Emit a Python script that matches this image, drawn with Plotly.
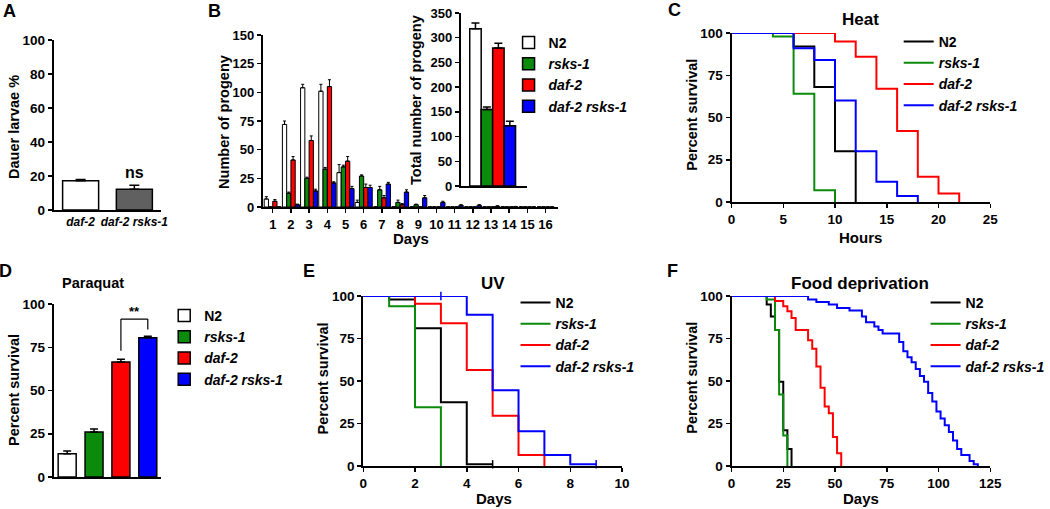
import plotly.graph_objects as go

W, H = 1050, 509
FONT = "Liberation Sans, Arial, sans-serif"
GREEN = "#0b8a0b"
RED = "#ff0000"
BLUE = "#0000ff"
GRAY = "#606060"

# ---------------- data ----------------
# A: dauer formation
dauer_strains = ["daf-2", "daf-2 rsks-1"]
dauer_pct = [17.2, 12.2]
dauer_err = [0.8, 2.4]

# B: daily progeny
progeny_days = list(range(1, 17))
prog_n2 = [7, 72, 104, 101, 30, 4, 0, 0, 0, 0, 0, 0, 0, 0, 0, 0]
prog_n2_err = [2, 3, 3, 6, 7, 2, 0, 0, 0, 0, 0, 0, 0, 0, 0, 0]
prog_rsks1 = [0, 12, 25, 33, 35, 27, 15, 4, 2, 0, 0, 0, 0, 0, 0, 0]
prog_rsks1_err = [0, 1, 1, 1.5, 1.5, 1, 3, 2, 0.5, 0, 0, 0, 0, 0, 0, 0]
prog_daf2 = [5, 41, 58, 105, 40, 17, 8, 2, 0, 0, 0, 0, 0, 0, 0, 0]
prog_daf2_err = [1.5, 3, 4, 6, 4, 3, 2, 1, 0, 0, 0, 0, 0, 0, 0, 0]
prog_double = [0, 2, 14, 21, 16, 17, 20, 13, 8, 4, 1.5, 1.5, 0.7, 0.3, 0, 0]
prog_double_err = [0, 0.5, 1.5, 1, 2, 2, 1.5, 2, 2, 1, 0.5, 0.5, 0.3, 0.2, 0, 0]

# B inset: total progeny
total_strains = ["N2", "rsks-1", "daf-2", "daf-2 rsks-1"]
total_progeny = [318, 155, 279, 122]
total_err = [12, 5, 10, 9]

# C: heat survival
heat_t_n2 = [0, 6, 8, 10, 12]
heat_s_n2 = [100, 92, 68, 30, 0]
heat_t_rsks1 = [0, 4, 6, 8, 10]
heat_s_rsks1 = [100, 98, 64, 7, 0]
heat_t_daf2 = [0, 10, 12, 14, 16, 18, 20, 22]
heat_s_daf2 = [100, 95, 86, 67, 42, 15, 5, 0]
heat_t_double = [0, 6, 8, 10, 12, 14, 16, 18]
heat_s_double = [100, 91, 84, 60, 30, 12, 3.5, 0]

# D: paraquat survival
paraquat_strains = ["N2", "rsks-1", "daf-2", "daf-2 rsks-1"]
paraquat_surv = [13.5, 26, 66.5, 80.5]
paraquat_err = [1.5, 1.8, 1.5, 0.8]

# E: UV survival
uv_t_n2 = [0, 1, 2, 3, 4, 5]
uv_s_n2 = [100, 98, 81, 37.5, 1, 1]
uv_t_rsks1 = [0, 1, 2, 3]
uv_s_rsks1 = [100, 94, 34.5, 0]
uv_t_daf2 = [0, 2, 3, 4, 5, 6, 7]
uv_s_daf2 = [100, 95.5, 84, 56.5, 29.5, 6.5, 0]
uv_t_double = [0, 4, 5, 6, 7, 8, 9]
uv_s_double = [100, 89, 44.5, 20.5, 6.5, 1, 1]
# censored observations (tick marks)
uv_censor_n2_t = [5]
uv_censor_n2_s = [1]
uv_censor_double_t = [3, 9]
uv_censor_double_s = [100, 1]

# F: food deprivation survival
fd_t_n2 = [0, 17, 19, 21, 23, 25, 27, 29]
fd_s_n2 = [100, 95, 88, 80, 49.5, 21, 10, 0]
fd_t_rsks1 = [0, 17, 21, 23, 25, 27]
fd_s_rsks1 = [100, 98, 80, 42, 18, 0]
fd_t_daf2 = [0, 21, 25, 27, 29, 31, 37, 39, 41, 43, 45, 47, 49, 51, 53]
fd_s_daf2 = [100, 97, 94, 91, 87, 80, 74, 69, 58.5, 46, 35, 31, 17, 7.5, 0]
fd_t_double = [0, 37, 41, 47, 51, 57, 63, 65, 69, 71, 73, 81, 83, 85, 87, 89,
               91, 93, 95, 97, 99, 101, 103, 105, 107, 109, 111, 115, 117, 119]
fd_s_double = [100, 98, 96.5, 95, 93, 91.5, 88, 84.5, 82, 80, 78, 73, 67.5, 64,
               61, 57, 53, 49.5, 43, 38, 32, 28, 24, 20, 15, 10, 6.5, 3, 1, 0]

strain_colors = ["white", GREEN, RED, BLUE]
line_colors = ["black", GREEN, RED, BLUE]


def label(name):
    return name if name == "N2" else "<i>" + name + "</i>"


# ---------------- helpers ----------------
def fx(p):
    return p / W


def fy(p):
    return 1 - p / H


def axis(dom, rng, anchor, tickvals=None, ticks="outside", showticklabels=True,
         size=13, typ="linear", ticktext=None):
    d = dict(domain=dom, anchor=anchor, showline=True, linecolor="black",
             linewidth=2, ticks=ticks, ticklen=4, tickwidth=1.5,
             tickcolor="black", showgrid=False, zeroline=False,
             showticklabels=showticklabels, fixedrange=True, tickangle=0,
             automargin=False,
             tickfont=dict(family=FONT, size=size, color="black", weight="bold"))
    if typ == "category":
        d["type"] = "category"
    else:
        d["range"] = rng
    if tickvals is not None:
        d["tickvals"] = tickvals
    if ticktext is not None:
        d["ticktext"] = ticktext
    return d


fig = go.Figure()

# ---- A ----
fig.add_trace(go.Bar(
    x=dauer_strains, y=dauer_pct, xaxis="x", yaxis="y",
    marker=dict(color=["white", GRAY], line=dict(color="black", width=1.5)),
    error_y=dict(type="data", array=dauer_err, arrayminus=[0] * 2,
                 symmetric=False, color="black", thickness=1.5, width=5),
    showlegend=False, width=0.67))

# ---- B main ----
b_series = [(prog_n2, prog_n2_err), (prog_rsks1, prog_rsks1_err),
            (prog_daf2, prog_daf2_err), (prog_double, prog_double_err)]
bw = 0.235
for i, (vals, errs) in enumerate(b_series):
    fig.add_trace(go.Bar(
        x=progeny_days, y=vals, xaxis="x2", yaxis="y2",
        width=bw, offset=-2 * bw + i * bw,
        marker=dict(color=strain_colors[i], line=dict(color="black", width=1)),
        error_y=dict(type="data", array=errs, arrayminus=[0] * len(errs),
                     symmetric=False, color="black", thickness=1, width=1.5),
        showlegend=False))

# ---- B inset ----
for i, name in enumerate(total_strains):
    fig.add_trace(go.Bar(
        x=[i], y=[total_progeny[i]], xaxis="x3", yaxis="y3", width=1,
        name=label(name), legend="legend",
        marker=dict(color=strain_colors[i], line=dict(color="black", width=1.5)),
        error_y=dict(type="data", array=[total_err[i]], arrayminus=[0],
                     symmetric=False, color="black", thickness=1.5, width=4)))


def surv_traces(series, xa, ya, leg):
    for i, (name, t, s) in enumerate(series):
        fig.add_trace(go.Scatter(
            x=t, y=s, xaxis=xa, yaxis=ya, mode="lines", name=label(name),
            line=dict(color=line_colors[i], width=2, shape="hv"),
            legend=leg))


def censor_marks(t, s, color, xa, ya):
    fig.add_trace(go.Scatter(
        x=t, y=s, xaxis=xa, yaxis=ya, mode="markers", showlegend=False,
        marker=dict(symbol="line-ns", size=6, line=dict(color=color, width=1.5)),
        cliponaxis=False))


# ---- C ----
surv_traces([("N2", heat_t_n2, heat_s_n2), ("rsks-1", heat_t_rsks1, heat_s_rsks1),
             ("daf-2", heat_t_daf2, heat_s_daf2),
             ("daf-2 rsks-1", heat_t_double, heat_s_double)], "x4", "y4", "legend2")

# ---- D ----
for i, name in enumerate(paraquat_strains):
    fig.add_trace(go.Bar(
        x=[name], y=[paraquat_surv[i]], xaxis="x5", yaxis="y5", width=0.67,
        name=label(name), legend="legend3", offsetgroup="d",
        marker=dict(color=strain_colors[i], line=dict(color="black", width=1.5)),
        error_y=dict(type="data", array=[paraquat_err[i]], arrayminus=[0],
                     symmetric=False, color="black", thickness=1.5, width=4)))

# ---- E ----
surv_traces([("N2", uv_t_n2, uv_s_n2), ("rsks-1", uv_t_rsks1, uv_s_rsks1),
             ("daf-2", uv_t_daf2, uv_s_daf2),
             ("daf-2 rsks-1", uv_t_double, uv_s_double)], "x6", "y6", "legend4")
censor_marks(uv_censor_n2_t, uv_censor_n2_s, "black", "x6", "y6")
censor_marks(uv_censor_double_t, uv_censor_double_s, BLUE, "x6", "y6")

# ---- F ----
surv_traces([("N2", fd_t_n2, fd_s_n2), ("rsks-1", fd_t_rsks1, fd_s_rsks1),
             ("daf-2", fd_t_daf2, fd_s_daf2),
             ("daf-2 rsks-1", fd_t_double, fd_s_double)], "x7", "y7", "legend5")

# ---------------- layout ----------------
layout = dict(
    width=W, height=H, autosize=False,
    margin=dict(l=0, r=0, t=0, b=0, pad=0),
    paper_bgcolor="white", plot_bgcolor="white",
    barmode="overlay", bargap=0,
    font=dict(family=FONT, color="black"),
)

layout["xaxis"] = axis([fx(54), fx(162)], None, "y", ticks="", typ="category",
                       ticktext=[label(s) for s in dauer_strains],
                       tickvals=dauer_strains, size=12)
layout["yaxis"] = axis([fy(210), fy(40)], [0, 100], "x",
                       tickvals=[0, 20, 40, 60, 80, 100], size=13.5)

layout["xaxis2"] = axis([fx(264), fx(561)], [0.45, 16.7], "y2",
                        tickvals=progeny_days, size=13)
layout["yaxis2"] = axis([fy(207), fy(35)], [0, 150], "x2",
                        tickvals=[0, 25, 50, 75, 100, 125, 150], size=13)

layout["xaxis3"] = axis([fx(463), fx(530)], [-1.28, 4.54], "y3", ticks="",
                        showticklabels=False)
layout["yaxis3"] = axis([fy(186), fy(13)], [0, 350], "x3",
                        tickvals=list(range(0, 351, 50)), size=13)

layout["xaxis4"] = axis([fx(735), fx(995)], [0, 25], "y4",
                        tickvals=[0, 5, 10, 15, 20, 25], size=13.5)
layout["yaxis4"] = axis([fy(202), fy(33)], [0, 100], "x4",
                        tickvals=[0, 25, 50, 75, 100], size=13.5)

layout["xaxis5"] = axis([fx(54), fx(162)], None, "y5", ticks="",
                        showticklabels=False, typ="category")
layout["yaxis5"] = axis([fy(477), fy(304)], [0, 100], "x5",
                        tickvals=[0, 25, 50, 75, 100], size=13.5)

layout["xaxis6"] = axis([fx(365), fx(625)], [0, 10], "y6",
                        tickvals=[0, 2, 4, 6, 8, 10], size=13.5)
layout["yaxis6"] = axis([fy(466), fy(296)], [0, 100], "x6",
                        tickvals=[0, 25, 50, 75, 100], size=13.5)

layout["xaxis7"] = axis([fx(735), fx(995)], [0, 125], "y7",
                        tickvals=[0, 25, 50, 75, 100, 125], size=13.5)
layout["yaxis7"] = axis([fy(466), fy(296)], [0, 100], "x7",
                        tickvals=[0, 25, 50, 75, 100], size=13.5)

legfont = dict(family=FONT, size=14, color="black", weight="bold")


def leg(xp, yp):
    return dict(x=fx(xp), y=fy(yp), xanchor="left", yanchor="top",
                bgcolor="rgba(0,0,0,0)", font=legfont, itemclick=False,
                itemdoubleclick=False, tracegroupgap=0)


layout["legend"] = leg(511, 27)
layout["legend2"] = leg(903, 26)
layout["legend3"] = leg(165, 300)
layout["legend4"] = leg(518, 287)
layout["legend5"] = leg(930, 287)

fig.update_layout(**layout)

# ---------------- annotations ----------------
def text(xp, yp, s, size=14.5, angle=0):
    fig.add_annotation(x=fx(xp), y=fy(yp), xref="paper", yref="paper",
                       text=s, showarrow=False, textangle=angle,
                       xanchor="center", yanchor="middle",
                       font=dict(family=FONT, size=size, color="black",
                                 weight="bold"))


# panel letters
for letter, xp, yp in [("A", 10, 11), ("B", 216, 11), ("C", 678, 10),
                       ("D", 6, 271), ("E", 310, 271), ("F", 676, 271)]:
    text(xp, yp, letter, size=18)

# titles
text(865, 20, "Heat", size=17)
text(93, 283, "Paraquat", size=14.5)
text(495, 283, "UV", size=17)
text(864, 283, "Food deprivation", size=17)

# axis titles
text(14, 127, "Dauer larvae %", angle=-90)
text(225, 122, "Number of progeny", angle=-90)
text(418, 100, "Total number of progeny", angle=-90)
text(413, 238, "Days", size=15)
text(695, 115, "Percent survival", angle=-90)
text(865, 237, "Hours", size=15)
text(14, 390, "Percent survival", angle=-90)
text(325, 378, "Percent survival", angle=-90)
text(496, 498, "Days", size=15)
text(695, 378, "Percent survival", angle=-90)
text(865, 498, "Days", size=15)

# ns label in A
fig.add_annotation(x=dauer_strains[1], y=dauer_pct[1] + dauer_err[1] + 1,
                   xref="x", yref="y", text="ns", showarrow=False,
                   yanchor="bottom",
                   font=dict(family=FONT, size=16, color="black", weight="bold"))

# significance bracket in D
top = max(paraquat_surv[2] + paraquat_err[2], paraquat_surv[3] + paraquat_err[3]) + 10
left_low = paraquat_surv[2] + paraquat_err[2] + 5
right_low = paraquat_surv[3] + paraquat_err[3] + 4
for (x0, y0, x1, y1) in [(2, left_low, 2, top), (2, top, 3, top), (3, top, 3, right_low)]:
    fig.add_shape(type="line", xref="x5", yref="y5", x0=x0, y0=y0, x1=x1, y1=y1,
                  line=dict(color="black", width=1.2))
fig.add_annotation(x=2.5, y=top, xref="x5", yref="y5", text="**",
                   showarrow=False, yanchor="bottom", yshift=-2,
                   font=dict(family=FONT, size=13, color="black", weight="bold"))

fig.write_html("out.html",
               config={"responsive": False, "displayModeBar": False,
                       "staticPlot": True},
               post_script="document.body.style.margin='0';")
